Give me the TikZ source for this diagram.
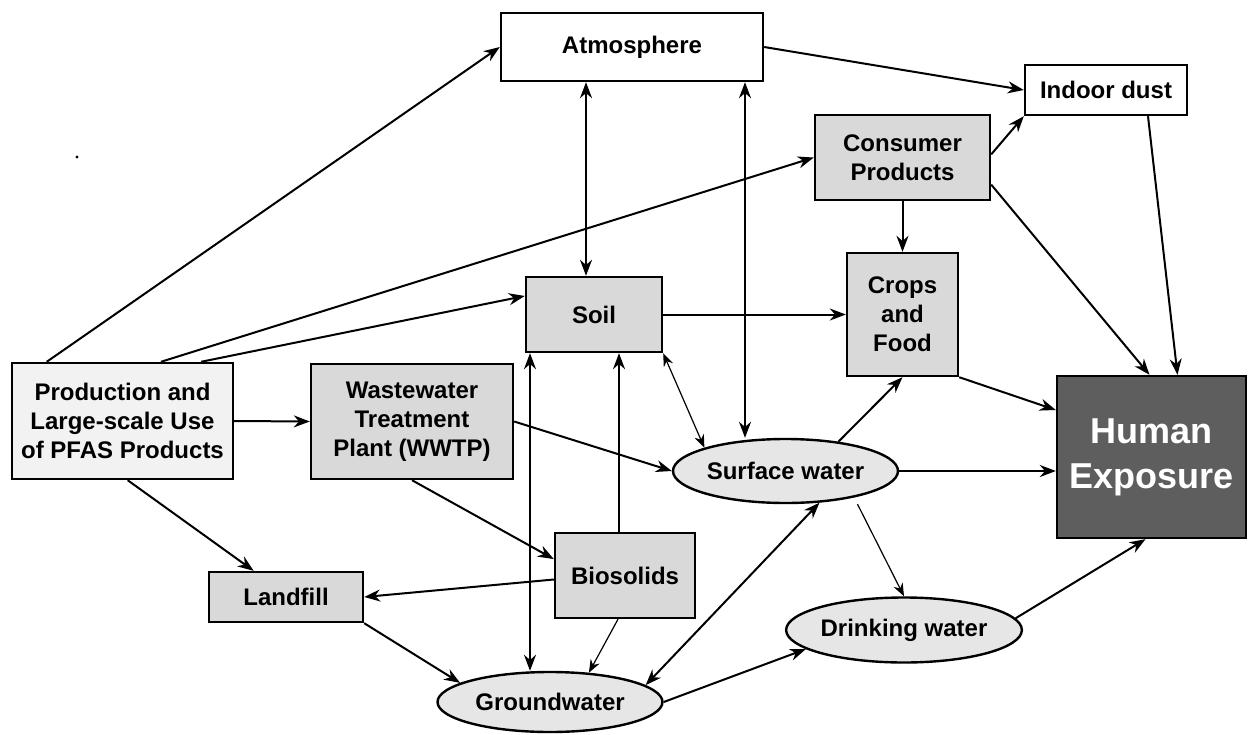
\documentclass[tikz,border=0pt]{standalone}
\usepackage{fontspec}
\setmainfont{Liberation Sans}
\usetikzlibrary{arrows.meta,shapes.geometric}

\definecolor{boxgrey}{RGB}{217,217,217}
\definecolor{prodgrey}{RGB}{242,242,242}
\definecolor{ovalgrey}{RGB}{230,230,230}
\definecolor{humangrey}{RGB}{94,94,94}

\begin{document}
\begin{tikzpicture}[x=0.5pt,y=-0.5pt,
  box/.style={draw,line width=1.2pt,inner sep=0pt,align=center,
    font=\fontsize{12}{14.5}\selectfont\bfseries},
  greybox/.style={box,fill=boxgrey},
  oval/.style={ellipse,draw,line width=1.2pt,fill=ovalgrey,inner sep=0pt,
    font=\fontsize{12}{14.5}\selectfont\bfseries},
  link/.style={-{Stealth[length=8pt,width=6pt]},line width=1pt},
  twoway/.style={{Stealth[length=8pt,width=6pt]}-{Stealth[length=8pt,width=6pt]},line width=1pt},
  thin link/.style={-{Stealth[length=6.5pt,width=5pt]},line width=0.6pt},
  thin twoway/.style={{Stealth[length=6.5pt,width=5pt]}-{Stealth[length=6.5pt,width=5pt]},line width=0.6pt}]
  \useasboundingbox (0,0) rectangle (1248,734);

  % sources and media
  \node[box,fill=white,minimum width=131pt,minimum height=34pt] (atm) at (632,47) {Atmosphere};
  \node[box,fill=white,minimum width=81pt,minimum height=25pt] (dust) at (1106,90) {Indoor dust};
  \node[greybox,minimum width=87.5pt,minimum height=42.5pt] (cons) at (902.5,157.5) {Consumer\\Products};
  \node[greybox,minimum width=55.5pt,minimum height=61.5pt] (crops) at (902.5,314.5) {Crops\\and\\Food};
  \node[greybox,minimum width=68pt,minimum height=37.5pt] (soil) at (594,314.5) {Soil};
  \node[box,fill=prodgrey,minimum width=110.5pt,minimum height=58pt] (prod) at (122.5,421) {Production and\\Large-scale Use\\of PFAS Products};
  \node[greybox,minimum width=101pt,minimum height=57.5pt] (wwtp) at (412,421.5) {Wastewater\\Treatment\\Plant (WWTP)};
  \node[greybox,minimum width=70pt,minimum height=42.5pt] (bio) at (625,575.5) {Biosolids};
  \node[greybox,minimum width=77pt,minimum height=25pt] (land) at (286,597) {Landfill};
  \node[box,fill=humangrey,text=white,minimum width=94.5pt,minimum height=81pt,
    font=\fontsize{18}{22.5}\selectfont\bfseries] (human) at (1151.5,457) {Human\\Exposure};

  % waters
  \node[oval,minimum width=112.5pt,minimum height=32pt] (sw) at (785.5,471) {Surface water};
  \node[oval,minimum width=112.5pt,minimum height=32.5pt] (dw) at (904,630) {Drinking water};
  \node[oval,minimum width=112.5pt,minimum height=30pt] (gw) at (550,702) {Groundwater};

  \fill (77,157) circle (0.8pt);

  % pathways
  \draw[link] (prod.142) -- (atm.west);
  \draw[link] (prod.57) -- (cons.west);
  \draw[link] (prod.37) -- (soil.165);
  \draw[link] (prod.east) -- (wwtp.west);
  \draw[link] (prod.-85) -- (land.141);
  \draw[twoway] ([xshift=-4pt]soil.north) -- ([xshift=-4pt]soil.north |- atm.south);
  \draw[twoway] ([xshift=56.5pt]atm.south) -- ([xshift=56.5pt]atm.south |- sw.north);
  \draw[link] (atm.east) -- (dust.west);
  \draw[link] (cons.2) -- (dust.south west);
  \draw[link] (cons.south) -- (crops.north);
  \draw[link] (cons.-17) -- ([xshift=-1pt]human.north);
  \draw[link] ([xshift=21pt]dust.south) -- ([xshift=13pt]human.north);
  \draw[link] (soil.east) -- (crops.west);
  \draw[thin twoway] (soil.south east) -- (sw.164);
  \draw[link] (crops.south east) -- ([yshift=23.5pt]human.west);
  \draw[link] (sw.29) -- (crops.south);
  \draw[link] (sw.east) -- (sw.east -| human.west);
  \draw[thin link] ([xshift=36pt]sw.south) -- (dw.north);
  \draw[link] (wwtp.east) -- (sw.west);
  \draw[link] (wwtp.south) -- (bio.167);
  \draw[link] ([xshift=-3pt]bio.north) -- ([xshift=-3pt]bio.north |- soil.south);
  \draw[twoway] ([xshift=-32pt]soil.south) -- ([xshift=-32pt]soil.south |- gw.north);
  \draw[link] ([yshift=-2pt]bio.west) -- (land.east);
  \draw[thin link] ([xshift=-3.5pt]bio.south) -- (gw.37);
  \draw[link] (land.south east) -- (gw.168);
  \draw[twoway] (gw.10) -- (sw.-43);
  \draw[link] (gw.east) -- (dw.191);
  \draw[link] (dw.6) -- ([xshift=-3pt]human.south);
\end{tikzpicture}
\end{document}
